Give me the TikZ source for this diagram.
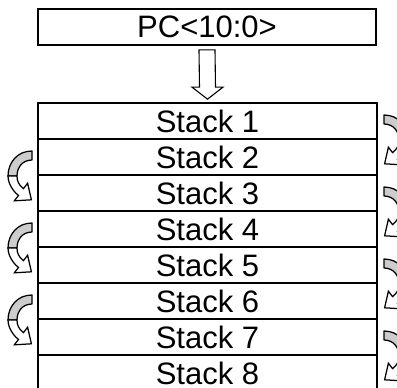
\documentclass[tikz,border=0pt]{standalone}
\usepackage{fontspec}
\setmainfont{Liberation Sans}
\usetikzlibrary{calc}
\tikzset{
  rowbox/.style={draw, line width=1.7pt, minimum width=339pt, minimum height=36pt,
    inner sep=0pt, font=\fontsize{31}{31}\selectfont, anchor=center},
  hollow/.style={draw, line width=1.1pt, fill=white, line join=miter},
  backband/.style={draw, line width=1.25pt, fill=black!20, line join=round},
  frontband/.style={draw, line width=1.25pt, fill=white, line join=miter},
}
\newcommand\mycurvarrow{%
  \path[backband] (32,-25) .. controls (17,-25) and (8,-13) .. (8,0) -- (17,0)
    .. controls (17,-8) and (22,-16) .. (32,-16) -- cycle;
  \path[frontband] (8,0) .. controls (8,8) and (13.7,15.8) .. (18.5,19.4) -- (14.4,24.8)
    -- (31.4,23.8) -- (27.6,7.2) -- (23.5,12.6) .. controls (18.7,9) and (17,5) .. (17,0) -- cycle;
}
\begin{document}
\begin{tikzpicture}[x=1pt, y=-1pt]
  \useasboundingbox (0,0) rectangle (397,388);
  \clip (0,0) rectangle (397,388);
  \node[rowbox, minimum width=338pt] (pc) at (207,27) {PC<10:0>};
  \node[rowbox] (s1) at (207.5,121) {Stack 1};
  \node[rowbox] (s2) at (207.5,157) {Stack 2};
  \node[rowbox] (s3) at (207.5,193) {Stack 3};
  \node[rowbox] (s4) at (207.5,229) {Stack 4};
  \node[rowbox] (s5) at (207.5,265) {Stack 5};
  \node[rowbox] (s6) at (207.5,301) {Stack 6};
  \node[rowbox] (s7) at (207.5,337) {Stack 7};
  \node[rowbox] (s8) at (207.5,373) {Stack 8};
  % hollow down arrow from PC to the stack
  \path[hollow] ($(pc.south)+(-8,4)$) -- ($(s1.north)+(-8,-15)$) -- ($(s1.north)+(-15.5,-15)$)
    -- ($(s1.north)+(0,-3)$) -- ($(s1.north)+(15.5,-15)$) -- ($(s1.north)+(8,-15)$)
    -- ($(pc.south)+(8,4)$) -- cycle;
  % curved arrows on the left
  \foreach \b in {176,248,320} {
    \begin{scope}[shift={(0,\b)}]
      \mycurvarrow
    \end{scope}
  }
  % curved arrows on the right (mirrored)
  \foreach \b in {140,212,284,356} {
    \begin{scope}[shift={(416,\b)}, xscale=-1]
      \mycurvarrow
    \end{scope}
  }
\end{tikzpicture}
\end{document}
